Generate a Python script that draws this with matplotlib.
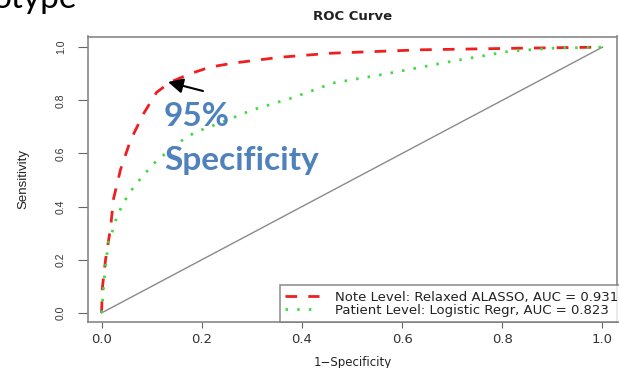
import matplotlib
matplotlib.use("Agg")
import matplotlib.pyplot as plt

# Data
note_fpr = [0.0, 0.002, 0.008, 0.018, 0.024, 0.038, 0.058, 0.084, 0.11, 0.137, 0.177, 0.217,
            0.263, 0.357, 0.457, 0.637, 0.836, 1.0]
note_tpr = [0.0, 0.10, 0.20, 0.32, 0.43, 0.54, 0.65, 0.75, 0.83, 0.868, 0.90, 0.925,
            0.94, 0.962, 0.977, 0.99, 0.996, 1.0]

pat_fpr = [0.0, 0.005, 0.013, 0.023, 0.031, 0.043, 0.055, 0.071, 0.103, 0.153, 0.187, 0.23,
           0.30, 0.382, 0.462, 0.57, 0.70, 0.816, 0.90, 1.0]
pat_tpr = [0.0, 0.12, 0.26, 0.315, 0.365, 0.41, 0.45, 0.49, 0.56, 0.64, 0.68, 0.71,
           0.763, 0.81, 0.865, 0.90, 0.947, 0.985, 0.996, 1.0]

diag = [0.0, 1.0]
ticks = [0.0, 0.2, 0.4, 0.6, 0.8, 1.0]
tick_labels = ["0.0", "0.2", "0.4", "0.6", "0.8", "1.0"]
labels = ["Note Level: Relaxed ALASSO, AUC = 0.931",
          "Patient Level: Logistic Regr, AUC = 0.823"]

W, H = 619, 368
fig = plt.figure(figsize=(W / 100, H / 100), dpi=100)
ax = fig.add_axes([88 / W, 1 - 322 / H, (617.5 - 88) / W, (322 - 36.5) / H])

ax.plot(diag, diag, color="#8a8a8a", lw=1.0)
ax.plot(note_fpr, note_tpr, color="#f01e1e", lw=2.0, linestyle=(0, (4.2, 4.0)),
        label=labels[0])
ax.plot(pat_fpr, pat_tpr, color="#44d844", lw=2.0, linestyle=(0, (0.9, 3.3)),
        label=labels[1])

ax.set_xlim(-0.027, 1.03)
ax.set_ylim(-0.034, 1.04)

ax.set_xticks(ticks)
ax.set_xticklabels(tick_labels, family="DejaVu Sans", size=9.5, color="#333333")
ax.set_yticks(ticks)
ax.set_yticklabels(tick_labels, rotation=90, va="center", family="Liberation Sans",
                   size=7.5, color="#333333")
ax.tick_params(axis="x", length=4, width=0.8, color="#666666", pad=4)
ax.tick_params(axis="y", length=7, width=0.8, color="#666666", pad=9)
for s in ax.spines.values():
    s.set_color("#888888")
    s.set_linewidth(1.2)

ax.set_xlabel("1\u2212Specificity", family="DejaVu Sans", size=8.5, color="#222222", labelpad=7)
ax.set_ylabel("Sensitivity", family="Liberation Sans", size=9.5, color="#222222", labelpad=19)
ax.set_title("ROC Curve", family="DejaVu Sans", size=9.5, weight="bold", color="#222222", pad=12)

leg = ax.legend(loc="lower right", bbox_to_anchor=(1.012, 0.0), frameon=True, fancybox=False,
                prop=dict(family="DejaVu Sans", size=9.5), borderpad=0.4,
                handlelength=2.6, labelspacing=0.0, borderaxespad=0.0, handletextpad=1.2)
leg.get_frame().set_edgecolor("#777777")
leg.get_frame().set_linewidth(1.2)
for t in leg.get_texts():
    t.set_color("#222222")

# annotation
ax.annotate("", xy=(168 / W, 1 - 82 / H), xycoords="figure fraction",
            xytext=(203 / W, 1 - 91 / H), textcoords="figure fraction",
            arrowprops=dict(arrowstyle="-|>,head_length=0.9,head_width=0.45",
                            color="black", lw=1.5, shrinkA=0, shrinkB=0))
fig.text(164 / W, 1 - 126 / H, "95%", family="Lato", weight="bold", size=24,
         color="#4F81BD", va="baseline", ha="left")
fig.text(164 / W, 1 - 170 / H, "Specificity", family="Lato", weight="bold", size=24,
         color="#4F81BD", va="baseline", ha="left")

# cropped slide text at top-left (cut off at the top in the reference too)
fig.text(-7 / W, 1 - 8 / H, "otype", family="Lato", size=24, color="black",
         va="baseline", ha="left")

fig.savefig("out.png", dpi=100)
